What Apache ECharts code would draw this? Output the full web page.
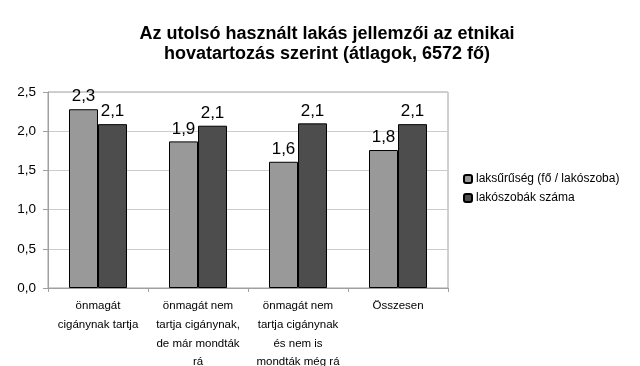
<!DOCTYPE html>
<html>
<head>
<meta charset="utf-8">
<script src="https://cdn.jsdelivr.net/npm/echarts@6/dist/echarts.min.js"></script>
<style>html,body{margin:0;padding:0;background:#fff}#c{width:640px;height:366px}</style>
</head>
<body>
<div id="c"></div>
<script>
const titleText = 'Az utolsó használt lakás jellemzői az etnikai\nhovatartozás szerint (átlagok, 6572 fő)';
const categories = [
  'önmagát\ncigánynak tartja',
  'önmagát nem\ntartja cigánynak,\nde már mondták\nrá',
  'önmagát nem\ntartja cigánynak\nés nem is\nmondták még rá',
  'Összesen'
];
const seriesNames = ['laksűrűség (fő / lakószoba)', 'lakószobák száma'];
const density = [2.28, 1.87, 1.61, 1.76];
const rooms = [2.09, 2.07, 2.10, 2.09];
const yTicks = [0, 0.5, 1.0, 1.5, 2.0, 2.5];

const fmt = v => v.toFixed(1).replace('.', ',');
const font = '"Liberation Sans", Arial, sans-serif';

const chart = echarts.init(document.getElementById('c'), null, {renderer: 'canvas'});
const labelCfg = {
  show: true, position: 'top', distance: 4,
  fontSize: 17, color: '#000', fontFamily: font,
  formatter: p => fmt(p.value)
};
chart.setOption({
  animation: false,
  backgroundColor: '#fff',
  textStyle: {fontFamily: font},
  title: {
    text: titleText, left: 322, textAlign: 'center', top: 19,
    textStyle: {fontSize: 18, fontWeight: 'bold', color: '#000', lineHeight: 20, fontFamily: font}
  },
  legend: {
    orient: 'vertical', left: 458, top: 168,
    itemWidth: 8, itemHeight: 8, itemGap: 7,
    textStyle: {fontSize: 12, color: '#000', fontFamily: font, padding: [0,0,0,-1]},
    data: seriesNames
  },
  grid: {
    left: 48, right: 192, top: 92, bottom: 78,
    containLabel: false, outerBoundsMode: 'none',
    show: true, borderColor: '#a0a0a0', borderWidth: 1
  },
  xAxis: {
    type: 'category', data: categories,
    axisLine: {show: true, lineStyle: {color: '#a0a0a0'}},
    axisTick: {show: true, length: 4, interval: 0, lineStyle: {color: '#a0a0a0'}},
    axisLabel: {interval: 0, fontSize: 11.5, lineHeight: 18.6, color: '#000', margin: 9, fontFamily: font}
  },
  yAxis: {
    type: 'value', min: yTicks[0], max: yTicks[yTicks.length - 1], interval: 0.5,
    axisLine: {show: true, lineStyle: {color: '#a0a0a0'}},
    axisTick: {show: true, length: 5, lineStyle: {color: '#a0a0a0'}},
    axisLabel: {fontSize: 13.5, color: '#000', margin: 12, formatter: v => fmt(v), fontFamily: font},
    splitLine: {show: true, lineStyle: {color: '#cccccc'}}
  },
  series: [
    {
      name: seriesNames[0], type: 'bar', data: density, barWidth: 29, barGap: '0%',
      itemStyle: {color: '#999999', borderColor: '#000', borderWidth: 1},
      label: labelCfg
    },
    {
      name: seriesNames[1], type: 'bar', data: rooms, barWidth: 29,
      itemStyle: {color: '#4d4d4d', borderColor: '#000', borderWidth: 1},
      label: labelCfg
    }
  ]
});
</script>
</body>
</html>
